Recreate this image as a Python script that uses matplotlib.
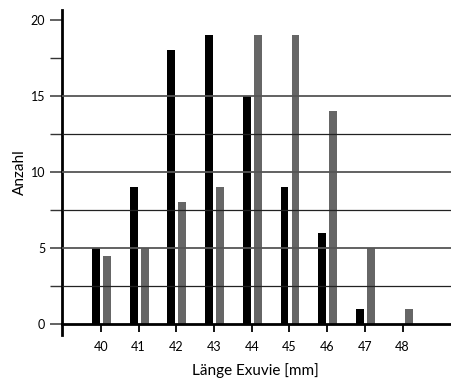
import matplotlib
matplotlib.use("Agg")
import matplotlib.pyplot as plt
import numpy as np

plt.rcParams['font.family'] = ['Lato', 'DejaVu Sans']

categories = [40, 41, 42, 43, 44, 45, 46, 47, 48]
series_black = [5, 9, 18, 19, 15, 9, 6, 1, 0]
series_gray = [4.5, 5, 8, 9, 19, 19, 14, 5, 1]
y_major = [0, 5, 10, 15, 20]
y_minor = [2.5, 7.5, 12.5, 17.5]
grid_major = [5, 10, 15]
grid_minor = [2.5, 7.5, 12.5]

fig = plt.figure(figsize=(4.52, 3.84), dpi=100)
ax = fig.add_axes([62/452, (384-335)/384, 1 - 62/452, (335-10)/384])

x = np.array(categories, dtype=float)
w = 0.21
ax.bar(x - 0.13, series_black, width=w, color='black', zorder=2)
ax.bar(x + 0.16, series_gray, width=w, color='#666666', zorder=2)

xl = (38.97, 49.31)
ax.set_xlim(*xl)
ax.set_ylim(-0.72, 20.66)

ax.hlines(grid_major, xl[0], xl[1], colors='#555555', lw=1.3, zorder=3)
ax.hlines(grid_minor, xl[0], xl[1], colors='#222222', lw=0.9, zorder=3)

for s in ['top', 'right']:
    ax.spines[s].set_visible(False)
ax.spines['bottom'].set_position(('data', 0))
ax.spines['bottom'].set_linewidth(2)
ax.spines['bottom'].set_zorder(4)
ax.spines['left'].set_linewidth(2)

ax.set_xticks(categories)
ax.set_xticklabels([str(c) for c in categories], fontsize=9)
ax.tick_params(axis='x', direction='out', length=6, width=1.3, color='black', pad=6)

ax.set_yticks(y_major)
ax.set_yticklabels([str(v) for v in y_major], fontsize=9)
ax.set_yticks(y_minor, minor=True)
ax.tick_params(axis='y', which='major', direction='out', length=9, width=1.3, color='#555555', pad=3)
ax.tick_params(axis='y', which='minor', direction='out', length=9, width=1.0, color='#333333')

ax.set_xlabel('Länge Exuvie [mm]', fontsize=11)
ax.xaxis.set_label_coords(0.497, -0.085)
ax.set_ylabel('Anzahl', fontsize=11, labelpad=3)

fig.savefig('out.png', dpi=100)
